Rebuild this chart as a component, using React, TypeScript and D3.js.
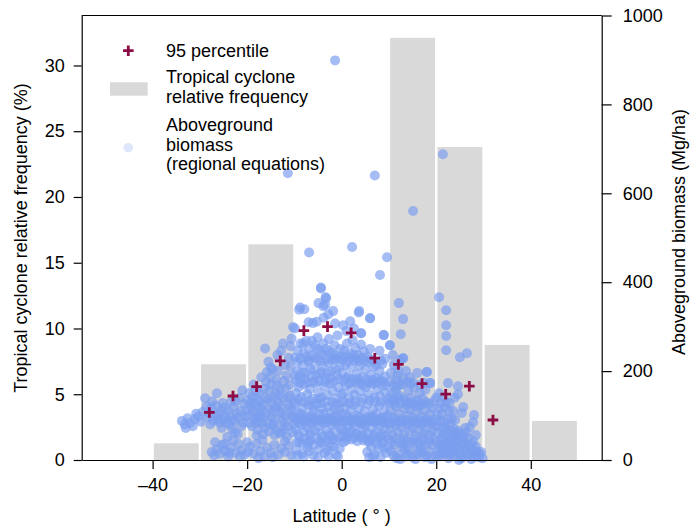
import React from "react";
import { useEffect, useRef } from "react";
import * as d3 from "d3";

// Tropical cyclone relative frequency (%), 10 degree latitude bins
const binStart = [-40, -30, -20, -10, 0, 10, 20, 30, 40];
const cycloneFreq = [1.27, 7.28, 16.4, 0, 0, 32.1, 23.8, 8.75, 2.97];

// 95 percentile of aboveground biomass (Mg/ha)
const pctLat = [-28, -23, -18, -13, -8, -3, 2, 7, 12, 17, 22, 27, 32];
const pctBiomass = [107, 144, 165, 223, 291, 300, 286, 229, 215, 172, 148, 166, 90];

// Aboveground biomass (regional equations): [latitude, Mg/ha]
const biomassPoints: [number, number][] = [
  // southern tail
  [-33.8, 88], [-33.2, 80], [-32.6, 94], [-32.0, 84], [-31.5, 76], [-31.0, 92], [-30.4, 98], [-29.8, 86], [-33.0, 72], [-30.8, 104],
  [-28.9, 139], [-27.6, 118], [-26.4, 150], [-26.0, 104], [-25.2, 128], [-24.6, 96], [-24.0, 112], [-23.4, 132], [-22.8, 120], [-22.2, 104],
  [-21.6, 140], [-21.0, 157], [-20.6, 126], [-20.2, 112], [-28.4, 96], [-27.2, 88], [-26.8, 100], [-25.8, 84], [-25.0, 92], [-23.8, 80],
  [-22.6, 88], [-21.8, 96], [-20.8, 84], [-29.4, 108], [-27.8, 80],
  [-28.6, 120], [-28.0, 104], [-27.4, 132], [-26.6, 122], [-26.2, 90], [-25.6, 110], [-24.8, 118], [-24.4, 84], [-23.6, 100], [-23.0, 90],
  [-22.4, 132], [-21.4, 110], [-20.4, 98], [-21.2, 76], [-23.2, 70], [-25.4, 72], [-19.9, 134], [-22.6, 62],
  [-27.5, 18], [-27.0, 10], [-26.4, 24], [-25.8, 14], [-25.3, 34], [-24.6, 20], [-24.0, 8], [-23.4, 28], [-23.0, 44], [-22.4, 16],
  [-21.8, 36], [-21.2, 22], [-20.6, 12], [-20.0, 40], [-26.8, 40], [-24.2, 52], [-22.0, 58], [-24.8, 36], [-21.6, 8], [-19.8, 18],
  [-23.8, 16],
  // -20 to -10
  [-19.6, 150], [-19.2, 130], [-18.8, 110], [-18.4, 92], [-18.0, 140], [-17.6, 120], [-17.2, 100], [-16.8, 82], [-16.4, 160], [-16.0, 176],
  [-15.6, 136], [-15.2, 114], [-14.8, 96], [-14.4, 78], [-14.0, 150], [-13.8, 180], [-13.4, 128], [-13.0, 108], [-12.6, 88], [-12.2, 70],
  [-12.0, 213], [-11.8, 160], [-11.4, 140], [-11.0, 118], [-10.6, 98], [-10.2, 80], [-19.0, 76], [-17.8, 68], [-16.6, 58], [-15.4, 64],
  [-14.2, 56], [-13.2, 60], [-11.6, 52], [-10.4, 62], [-18.6, 170], [-17.0, 186], [-15.8, 198], [-14.6, 204], [-13.6, 236], [-12.8, 246],
  [-11.2, 230], [-10.8, 256], [-10.6, 273], [-12.4, 262], [-16.2, 251], [-15.5, 221], [-15.0, 208], [-19.8, 100], [-18.2, 84], [-17.4, 150],
  [-16.0, 104], [-14.0, 118], [-12.4, 140], [-11.0, 170], [-10.0, 190], [-13.0, 160], [-15.0, 170], [-18.0, 55], [-16.8, 45], [-12.0, 42],
  [-19.3, 118], [-18.9, 142], [-18.5, 126], [-18.1, 104], [-17.7, 88], [-17.3, 132], [-16.9, 116], [-16.5, 96], [-16.1, 140], [-15.7, 84],
  [-15.3, 156], [-14.9, 130], [-14.5, 110], [-14.1, 92], [-13.7, 168], [-13.3, 146], [-12.9, 122], [-12.5, 104], [-12.1, 84], [-11.7, 190],
  [-11.3, 124], [-10.9, 144], [-10.5, 112], [-10.1, 130], [-13.9, 70], [-12.7, 62], [-11.5, 76], [-10.3, 96], [-14.7, 80], [-16.3, 72],
  [-17.9, 96], [-19.5, 84], [-15.1, 188], [-13.5, 200], [-12.2, 178], [-10.8, 210], [-11.9, 100], [-14.3, 140], [-16.7, 124], [-18.3, 156],
  [-19.4, 30], [-18.6, 14], [-18.0, 36], [-17.2, 20], [-16.4, 8], [-15.8, 28], [-15.0, 16], [-14.2, 34], [-13.4, 12], [-12.8, 26],
  [-12.0, 18], [-11.2, 32], [-10.6, 10], [-17.6, 4], [-14.6, 6],
  // -10 to 0
  [-9.6, 22], [-8.4, 14], [-7.2, 28], [-6.0, 10], [-4.8, 24], [-3.6, 16], [-2.4, 30], [-1.2, 12], [-0.4, 26], [-9.0, 40],
  [-6.6, 44], [-4.2, 38], [-1.8, 46], [-8.0, 8], [-5.0, 6], [-2.8, 8], [-9.4, 10], [-6.8, 20], [-3.0, 22], [-0.8, 8],
  [-9.5, 40], [-8.9, 52], [-8.3, 36], [-7.7, 48], [-7.1, 40], [-6.5, 62], [-5.9, 34], [-5.3, 48], [-4.7, 42], [-4.1, 52],
  [-3.5, 40], [-2.9, 46], [-2.3, 54], [-1.7, 30], [-1.1, 44], [-0.5, 50],
  [-9.8, 70], [-9.2, 58], [-8.6, 80], [-8.0, 64], [-7.4, 74], [-6.8, 56], [-6.2, 84], [-5.6, 66], [-5.0, 76], [-4.4, 60],
  [-3.8, 82], [-3.2, 68], [-2.6, 58], [-2.0, 78], [-1.4, 64], [-0.8, 86], [-0.2, 70],
  [-9.7, 90], [-9.1, 84], [-8.5, 92], [-7.9, 86], [-7.3, 96], [-6.7, 82], [-6.1, 94], [-5.5, 88], [-4.9, 90], [-4.3, 86],
  [-3.7, 92], [-3.1, 86], [-2.5, 94], [-1.9, 88], [-1.3, 84], [-0.7, 92], [-0.1, 88],
  [-9.5, 108], [-8.9, 96], [-8.3, 118], [-7.7, 102], [-7.1, 124], [-6.5, 98], [-5.9, 112], [-5.3, 126], [-4.7, 104], [-4.1, 116],
  [-3.5, 94], [-2.9, 120], [-2.3, 108], [-1.7, 98], [-1.1, 126], [-0.5, 112],
  [-9.8, 128], [-9.2, 136], [-8.6, 104], [-8.0, 130], [-7.4, 90], [-6.8, 132], [-6.2, 118], [-5.6, 94], [-5.0, 136], [-4.4, 128],
  [-3.8, 104], [-3.2, 132], [-2.6, 90], [-2.0, 130], [-1.4, 116], [-0.8, 100], [-0.2, 130],
  [-9.7, 150], [-9.1, 164], [-8.5, 142], [-7.9, 170], [-7.3, 148], [-6.7, 160], [-6.1, 138], [-5.5, 172], [-4.9, 152], [-4.3, 140],
  [-3.7, 166], [-3.1, 146], [-2.5, 172], [-1.9, 156], [-1.3, 138], [-0.7, 164], [-0.1, 148],
  [-9.6, 180], [-9.0, 174], [-8.4, 196], [-7.8, 182], [-7.2, 174], [-6.6, 204], [-6.0, 176], [-5.4, 190], [-4.8, 178], [-4.2, 198],
  [-3.6, 176], [-3.0, 196], [-2.4, 184], [-1.8, 176], [-1.2, 204], [-0.6, 182],
  [-9.4, 200], [-8.8, 186], [-8.2, 214], [-7.6, 196], [-7.0, 222], [-6.4, 188], [-5.8, 206], [-5.2, 226], [-4.6, 194], [-4.0, 212],
  [-3.4, 184], [-2.8, 218], [-2.2, 200], [-1.6, 226], [-1.0, 190], [-0.4, 210],
  [-9.9, 230], [-9.3, 222], [-8.7, 228], [-8.1, 262], [-7.5, 232], [-6.9, 224], [-6.3, 268], [-5.7, 230], [-5.1, 250], [-4.5, 222],
  [-3.9, 236], [-3.3, 228], [-2.7, 244], [-2.1, 224], [-1.5, 236], [-0.9, 228], [-0.3, 232],
  [-9.3, 246], [-8.7, 262], [-8.1, 240], [-7.5, 268], [-6.9, 250], [-6.3, 236], [-5.7, 258], [-5.1, 276], [-4.5, 244], [-3.9, 262],
  [-3.3, 250], [-2.7, 272], [-2.1, 240], [-1.5, 258], [-0.9, 280], [-0.3, 250],
  [-9.9, 296], [-8.8, 343], [-7.9, 339], [-7.0, 310], [-5.3, 311], [-3.8, 320], [-2.8, 328], [-1.4, 307], [-6.1, 308], [-10.3, 299],
  [-4.4, 388], [-3.4, 366], [-4.9, 353], [-3.9, 346], [-1.8, 335], [-3.5, 349],
  // 0 to 10
  [0.4, 40], [1.2, 52], [5.4, 18], [6.2, 30], [7.0, 12], [7.8, 26], [8.6, 38], [9.4, 16], [4.6, 44], [3.0, 60],
  [6.6, 8], [8.2, 6], [9.8, 30], [5.8, 6], [7.4, 36], [9.0, 26], [6.0, 44],
  [0.3, 54], [0.9, 44], [1.5, 60], [2.1, 46], [2.7, 50], [3.3, 42], [3.9, 52], [4.5, 56], [5.1, 48], [5.7, 40],
  [6.3, 50], [6.9, 56], [7.5, 46], [8.1, 52], [8.7, 44], [9.3, 54], [9.9, 48],
  [0.2, 70], [0.8, 62], [1.4, 80], [2.0, 66], [2.6, 76], [3.2, 58], [3.8, 84], [4.4, 68], [5.0, 78], [5.6, 60],
  [6.2, 72], [6.8, 86], [7.4, 64], [8.0, 76], [8.6, 58], [9.2, 70], [9.8, 82],
  [0.6, 86], [1.2, 100], [1.8, 90], [2.4, 84], [3.0, 92], [3.6, 98], [4.2, 80], [4.8, 90], [5.4, 86], [6.0, 92],
  [6.6, 98], [7.2, 84], [7.8, 92], [8.4, 86], [9.0, 94], [9.6, 88],
  [0.1, 104], [0.7, 118], [1.3, 96], [1.9, 112], [2.5, 124], [3.1, 100], [3.7, 116], [4.3, 92], [4.9, 110], [5.5, 126],
  [6.1, 98], [6.7, 114], [7.3, 104], [7.9, 122], [8.5, 96], [9.1, 110], [9.7, 100],
  [0.5, 130], [1.1, 88], [1.7, 128], [2.3, 90], [2.9, 132], [3.5, 88], [4.1, 130], [4.7, 84], [5.3, 96], [5.9, 134],
  [6.5, 88], [7.1, 132], [7.7, 90], [8.3, 130], [8.9, 84], [9.5, 130],
  [0.3, 150], [0.9, 168], [1.5, 140], [2.1, 160], [2.7, 146], [3.3, 172], [3.9, 154], [4.5, 138], [5.1, 164], [5.7, 148],
  [6.3, 170], [6.9, 140], [7.5, 158], [8.1, 144], [8.7, 166], [9.3, 150], [9.9, 138],
  [0.4, 178], [1.0, 184], [1.6, 172], [2.2, 182], [2.8, 176], [3.4, 182], [4.0, 174], [4.6, 168], [5.2, 182], [5.8, 174],
  [6.4, 180], [7.0, 172], [7.6, 176], [8.2, 180], [8.8, 176], [9.4, 168],
  [0.2, 196], [0.8, 214], [1.4, 188], [2.0, 208], [2.6, 224], [3.2, 194], [3.8, 212], [4.4, 186], [5.0, 204], [5.6, 220],
  [6.2, 192], [6.8, 210], [7.4, 184], [8.0, 200], [8.6, 216], [9.2, 188],
  [0.1, 226], [0.7, 232], [1.3, 222], [1.9, 230], [2.5, 236], [3.1, 228], [3.7, 222], [4.3, 230], [4.9, 224], [5.5, 232],
  [6.1, 226], [6.7, 222], [7.3, 214], [8.3, 224], [9.2, 228],
  [0.5, 246], [1.1, 262], [1.7, 240], [2.3, 270], [2.9, 252], [3.5, 236], [4.1, 260], [4.7, 244], [6.0, 250], [8.0, 246],
  [0.3, 303], [1.0, 290], [1.8, 312], [2.6, 296], [3.7, 335], [4.1, 285], [6.0, 319], [8.9, 281], [10.2, 258],
  // 10 to 20
  [10.4, 20], [11.2, 34], [12.0, 12], [12.8, 28], [13.6, 8], [14.4, 22], [15.2, 36], [16.0, 14], [16.8, 30], [17.6, 6],
  [18.4, 20], [19.2, 34], [19.8, 10], [11.6, 4], [15.6, 2], [17.2, 44], [13.2, 46],
  [10.9, 10], [12.4, 2], [14.0, 14], [15.0, 6], [16.4, 22], [18.0, 10], [19.0, 2], [13.4, 24], [17.0, 18],
  [10.6, 40], [11.4, 48], [12.2, 40], [13.0, 36], [13.8, 44], [14.6, 40], [15.4, 46], [16.2, 38], [17.0, 52], [17.8, 36],
  [18.6, 42], [19.4, 48],
  [10.2, 70], [10.8, 56], [11.4, 78], [12.0, 62], [12.6, 74], [13.2, 58], [13.8, 80], [14.4, 64], [15.0, 72], [15.6, 54],
  [16.2, 68], [16.8, 80], [17.4, 60], [18.0, 72], [18.6, 56], [19.2, 66], [19.8, 76],
  [10.7, 84], [11.3, 90], [11.9, 86], [12.5, 84], [13.1, 88], [13.7, 90], [14.3, 82], [14.9, 86], [15.5, 88], [16.1, 84],
  [16.7, 90], [17.3, 86], [17.9, 84], [18.5, 88], [19.1, 84], [19.7, 92],
  [10.3, 110], [10.9, 96], [11.5, 120], [12.1, 104], [12.7, 92], [13.3, 116], [13.9, 100], [14.5, 112], [15.1, 94], [15.7, 108],
  [16.3, 120], [16.9, 98], [17.5, 112], [18.1, 92], [18.7, 104], [19.3, 116],
  [10.1, 128], [10.7, 132], [11.3, 126], [11.9, 140], [12.5, 128], [13.1, 138], [13.7, 124], [14.3, 130], [14.9, 126], [15.5, 124],
  [16.1, 130], [16.7, 124], [17.3, 126], [17.9, 130], [18.5, 126], [19.5, 132],
  [10.5, 150], [11.1, 136], [11.7, 164], [12.3, 144], [12.9, 170], [13.5, 132], [14.1, 156], [14.7, 140], [15.3, 162], [15.9, 134],
  [16.5, 150], [17.1, 138], [17.7, 158], [18.7, 173], [15.1, 175],
  [10.2, 176], [10.9, 168], [11.6, 180], [12.3, 170], [13.0, 184], [13.8, 176], [14.6, 172], [16.6, 168], [17.4, 174], [11.4, 156],
  [12.0, 202],
  [10.4, 196], [11.0, 214], [11.8, 190], [12.4, 226], [13.0, 229], [13.6, 200], [14.4, 186], [16.0, 196], [18.0, 198], [10.8, 236],
  // 20 to 30
  [20.2, 20], [20.8, 8], [21.4, 26], [22.0, 14], [22.6, 4], [23.2, 22], [23.8, 10], [24.4, 28], [25.0, 16], [25.6, 6],
  [26.2, 24], [26.8, 12], [27.4, 2], [28.0, 18], [28.6, 8], [29.2, 14], [29.8, 4], [21.0, 36], [23.6, 40], [26.0, 38],
  [28.4, 30], [24.8, 0], [22.4, 32],
  [20.1, 40], [20.7, 30], [21.3, 16], [21.9, 40], [22.5, 22], [23.1, 34], [23.7, 18], [24.3, 40], [24.9, 26], [25.5, 36],
  [26.1, 14], [26.7, 32], [27.3, 22], [27.9, 8], [28.5, 20], [29.1, 6], [29.5, 18], [20.5, 12], [22.9, 12], [25.3, 4],
  [27.5, 36],
  [20.4, 60], [21.0, 48], [21.6, 70], [22.2, 54], [22.8, 44], [23.4, 64], [24.0, 52], [24.6, 65], [25.2, 46], [26.1, 72],
  [26.6, 50], [27.1, 74], [27.8, 42], [28.4, 56],
  [20.2, 76], [20.8, 88], [21.4, 58], [22.0, 74], [22.6, 66], [23.2, 50], [23.8, 70], [24.4, 56], [25.0, 60], [25.8, 54],
  [26.4, 62], [24.0, 90], [21.2, 104], [22.4, 92], [23.6, 110], [20.6, 116],
  [20.3, 100], [20.9, 128], [21.5, 86], [22.1, 130], [22.7, 110], [23.3, 92], [23.9, 140], [24.6, 148], [25.4, 106], [25.7, 119],
  [27.8, 85], [28.0, 101], [20.6, 150], [21.8, 118], [23.0, 80], [22.5, 173], [24.6, 166], [21.6, 140], [22.8, 128], [20.0, 140],
  // sparse high values
  [-1.4, 899], [-11.4, 645], [7.0, 640], [15.1, 560], [21.4, 688], [-6.9, 467], [2.2, 479], [9.6, 456], [8.1, 416], [-4.4, 386],
  [-3.3, 364], [20.6, 366], [12.1, 353], [22.1, 337], [13.0, 317], [22.1, 303], [22.1, 279], [12.5, 283], [22.1, 247], [25.0, 231],
  [26.5, 240], [18.0, 198], [3.6, 332], [6.0, 319], [4.1, 285], [8.9, 281], [10.2, 258], [13.0, 229], [18.7, 173], [-9.0, 338],
];

const App: React.FC = () => {
  const svgRef = useRef<SVGSVGElement | null>(null);
  const width = 693;
  const height = 527;
  const plot = { left: 81.7, right: 601.7, top: 15.5, bottom: 460 };
  const font = "'Liberation Sans', Arial, Helvetica, sans-serif";
  const fontSize = 18;
  const barColor = "#d9d9d9";
  const pointColor = "#7b9def";
  const crossColor = "#8c0c46";

  useEffect(() => {
    if (!svgRef.current) return;
    const svg = d3.select(svgRef.current);
    svg.selectAll("*").remove();

    const x = d3.scaleLinear().domain([-55, 55]).range([plot.left, plot.right]);
    const yFreq = d3.scaleLinear().domain([0, 33.8]).range([plot.bottom, plot.top]);
    const yBio = d3.scaleLinear().domain([0, 1000]).range([plot.bottom, plot.top]);

    // bars
    svg
      .append("g")
      .selectAll("rect")
      .data(binStart.map((b, i) => ({ start: b, freq: cycloneFreq[i] })).filter((d) => d.freq > 0))
      .enter()
      .append("rect")
      .attr("x", (d) => x(d.start) + 1.2)
      .attr("width", (d) => x(d.start + 10) - x(d.start) - 2.4)
      .attr("y", (d) => yFreq(d.freq))
      .attr("height", (d) => plot.bottom - yFreq(d.freq))
      .attr("fill", barColor);

    // biomass points
    svg
      .append("g")
      .selectAll("circle")
      .data(biomassPoints)
      .enter()
      .append("circle")
      .attr("cx", (d) => x(d[0]))
      .attr("cy", (d) => yBio(d[1]))
      .attr("r", 5)
      .attr("fill", pointColor)
      .attr("fill-opacity", 0.68);

    // 95 percentile crosses
    const plus = (s: number) => `M${-s},0H${s}M0,${-s}V${s}`;
    svg
      .append("g")
      .selectAll("path")
      .data(pctLat.map((l, i) => ({ lat: l, val: pctBiomass[i] })))
      .enter()
      .append("path")
      .attr("transform", (d) => `translate(${x(d.lat)},${yBio(d.val)})`)
      .attr("d", plus(5.3))
      .attr("stroke", crossColor)
      .attr("stroke-width", 2.8)
      .attr("fill", "none");

    // axes
    const styleAxis = (g: d3.Selection<SVGGElement, unknown, null, undefined>) => {
      g.attr("font-size", fontSize).attr("font-family", font);
      g.selectAll("path, line").attr("stroke", "#000").attr("stroke-width", 1.2);
      g.selectAll("text").attr("fill", "#000");
    };

    svg
      .append("g")
      .attr("transform", `translate(0,${plot.bottom})`)
      .call(
        d3
          .axisBottom(x)
          .tickValues([-40, -20, 0, 20, 40])
          .tickSize(9)
          .tickSizeOuter(0)
          .tickPadding(9)
          .tickFormat((d) => (Number(d) < 0 ? "\u2013" + Math.abs(Number(d)) : String(d)))
      )
      .call(styleAxis);

    svg
      .append("g")
      .attr("transform", `translate(${plot.left},0)`)
      .call(d3.axisLeft(yFreq).tickValues([0, 5, 10, 15, 20, 25, 30]).tickSize(8).tickSizeOuter(0).tickPadding(9))
      .call(styleAxis);

    svg
      .append("g")
      .attr("transform", `translate(${plot.right},0)`)
      .call(
        d3
          .axisRight(yBio)
          .tickValues([0, 200, 400, 600, 800, 1000])
          .tickSize(10)
          .tickSizeOuter(0)
          .tickPadding(11)
          .tickFormat(d3.format("d"))
      )
      .call(styleAxis);

    // top frame line
    svg
      .append("line")
      .attr("x1", plot.left)
      .attr("x2", plot.right)
      .attr("y1", plot.top)
      .attr("y2", plot.top)
      .attr("stroke", "#000")
      .attr("stroke-width", 1.2);

    // axis titles
    svg
      .append("text")
      .attr("x", (plot.left + plot.right) / 2)
      .attr("y", 522)
      .attr("text-anchor", "middle")
      .attr("font-family", font)
      .attr("font-size", fontSize)
      .text("Latitude ( \u00b0 )");

    svg
      .append("text")
      .attr("transform", `translate(27,238) rotate(-90)`)
      .attr("text-anchor", "middle")
      .attr("font-family", font)
      .attr("font-size", fontSize)
      .text("Tropical cyclone relative frequency (%)");

    svg
      .append("text")
      .attr("transform", `translate(685,232) rotate(-90)`)
      .attr("text-anchor", "middle")
      .attr("font-family", font)
      .attr("font-size", fontSize)
      .text("Aboveground biomass (Mg/ha)");

    // legend
    const legend = svg.append("g").attr("font-family", font).attr("font-size", fontSize);
    legend
      .append("path")
      .attr("transform", "translate(128.3,50.7)")
      .attr("d", plus(5.3))
      .attr("stroke", crossColor)
      .attr("stroke-width", 2.8);
    legend.append("text").attr("x", 166).attr("y", 57.3).text("95 percentile");
    legend
      .append("rect")
      .attr("x", 110)
      .attr("y", 82.3)
      .attr("width", 37.7)
      .attr("height", 13.4)
      .attr("fill", barColor);
    legend.append("text").attr("x", 166).attr("y", 83).text("Tropical cyclone");
    legend.append("text").attr("x", 166).attr("y", 102.5).text("relative frequency");
    legend
      .append("circle")
      .attr("cx", 128.3)
      .attr("cy", 147.7)
      .attr("r", 4.8)
      .attr("fill", pointColor)
      .attr("fill-opacity", 0.25);
    legend.append("text").attr("x", 166).attr("y", 130.5).text("Aboveground");
    legend.append("text").attr("x", 166).attr("y", 150.5).text("biomass");
    legend.append("text").attr("x", 166).attr("y", 170).text("(regional equations)");
  }, []);

  return (
    <svg
      ref={svgRef}
      width={width}
      height={height}
      style={{ position: "absolute", left: 0, top: 0, background: "#fff" }}
    ></svg>
  );
};

export default App;
